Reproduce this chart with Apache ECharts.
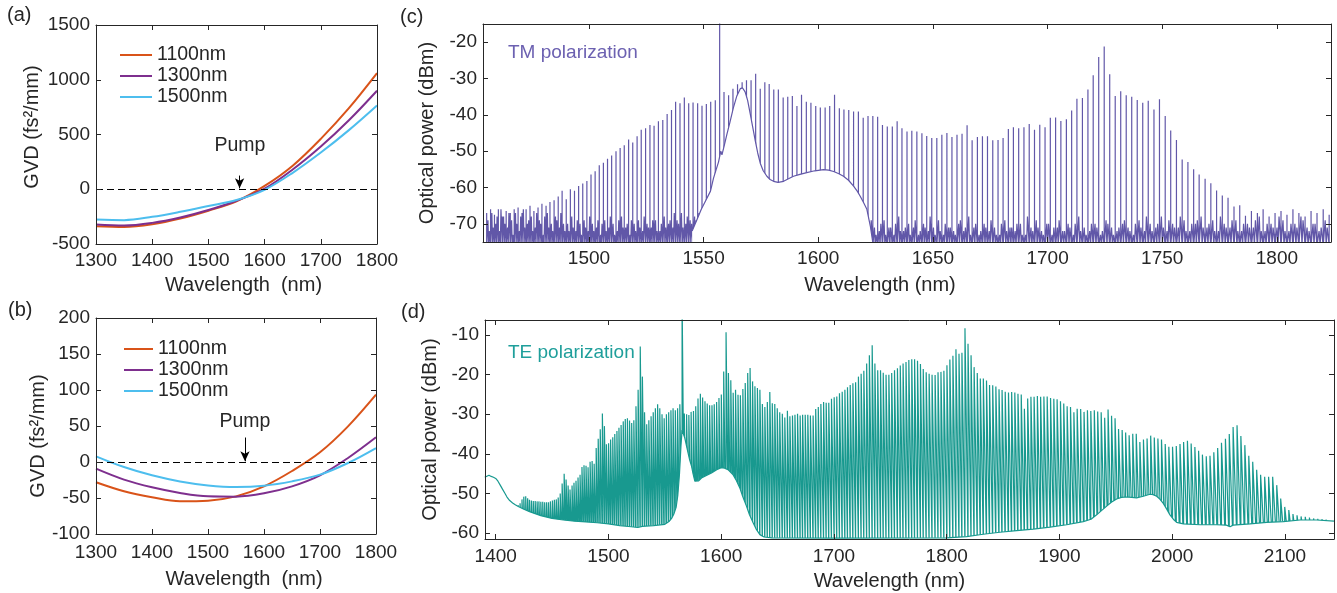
<!DOCTYPE html>
<html>
<head>
<meta charset="utf-8">
<script src="https://cdn.jsdelivr.net/npm/echarts@6/dist/echarts.min.js"></script>
<style>
  html, body { margin: 0; padding: 0; background: #fff; }
  #chart { width: 1337px; height: 593px; }
</style>
</head>
<body>
<div id="chart"></div>
<script>
// ---- (a) / (b): GVD curves for three waveguide widths ----
const gvdWl = [1300, 1350, 1400, 1450, 1500, 1550, 1600, 1650, 1700, 1750, 1800]
const gvdA1100 = [-337, -344, -319, -267, -196, -110, 30, 215, 460, 740, 1060]
const gvdA1300 = [-322, -331, -307, -258, -190, -105, 5, 180, 390, 630, 900]
const gvdA1500 = [-276, -282, -252, -206, -153, -98, -5, 150, 335, 540, 765]
const gvdB1100 = [-28.2, -40.7, -49, -54.6, -53.7, -47.7, -33.8, -12.5, 13.5, 49.5, 93.5]
const gvdB1300 = [-9.3, -24.5, -35.2, -43, -47.7, -48.1, -43.5, -33.8, -18.5, 5.6, 34.3]
const gvdB1500 = [7.9, -7, -18.5, -27, -32.5, -34.7, -32.9, -26.9, -17.6, -1.4, 19.4]

// ---- (c): TM comb, line positions (nm) and peak powers (dBm) ----
const tmLineWl = [
  1455.4, 1457.1, 1458.8, 1460.5, 1462.2, 1463.9, 1465.7, 1467.4, 1469.1, 1470.8,
  1472.6, 1474.3, 1476.0, 1477.8, 1479.5, 1481.3, 1483.0, 1484.8,
  1486.6, 1488.3, 1490.1, 1491.9, 1493.7, 1495.5, 1497.3, 1499.1, 1500.9, 1502.7,
  1504.5, 1506.3, 1508.1, 1509.9, 1511.8, 1513.6, 1515.4, 1517.3, 1519.1, 1521.0,
  1522.8, 1524.7, 1526.6, 1528.4, 1530.3, 1532.2, 1534.1, 1536.0, 1537.8, 1539.7,
  1541.6, 1543.5, 1545.4, 1547.4, 1549.3, 1551.2, 1553.1, 1555.1,
  1557.0,
  1558.9, 1560.9, 1562.8, 1564.8, 1566.8, 1568.7, 1570.7, 1572.7, 1574.7, 1576.7,
  1578.6, 1580.6, 1582.6, 1584.7, 1586.7, 1588.7, 1590.7, 1592.7, 1594.8, 1596.8,
  1598.9, 1600.9, 1603.0, 1605.0, 1607.1, 1609.2, 1611.2, 1613.3, 1615.4, 1617.5,
  1619.6, 1621.7, 1623.8, 1625.9, 1628.0, 1630.1, 1632.3, 1634.4, 1636.5, 1638.7,
  1640.8, 1643.0, 1645.2, 1647.3, 1649.5, 1651.7, 1653.9, 1656.1, 1658.3, 1660.5,
  1662.7, 1664.9, 1667.1, 1669.4, 1671.6, 1673.8, 1676.1, 1678.4, 1680.6, 1682.9,
  1685.1, 1687.4, 1689.7, 1692.0, 1694.3, 1696.6, 1698.9, 1701.2, 1703.5, 1705.8,
  1708.2, 1710.5, 1712.8, 1715.2, 1717.6, 1719.9, 1722.3, 1724.7, 1727.1, 1729.5,
  1731.9, 1734.3, 1736.7, 1739.1, 1741.5, 1743.9, 1746.4, 1748.8, 1751.3, 1753.7,
  1756.2, 1758.7, 1761.2, 1763.7, 1766.1, 1768.7, 1771.2, 1773.7, 1776.2, 1778.7,
  1781.3, 1783.8, 1786.3, 1788.9, 1791.5, 1794.0, 1796.6, 1799.2, 1801.8, 1804.4,
  1807.0, 1809.6, 1812.3, 1814.9, 1817.5, 1820.2, 1822.8
]
const tmLinePeak = [
  -67, -66, -67.5, -66, -68, -66.5, -67, -66, -65.5, -67,
  -66, -65, -66.5, -65.5, -64.5, -65, -64, -63.5,
  -62.5, -60.9, -63.2, -60.5, -60.9, -59.6, -58.9, -58.2, -56.4, -55.5,
  -53.9, -53.2, -52.1, -51.2, -50.0, -49.1, -48.4, -46.8, -47.6, -45.9,
  -44.1, -43.7, -42.8, -43.0, -41.8, -41.4, -39.8, -38.7, -36.4, -36.8,
  -35.2, -36.8, -36.6, -36.8, -37.5, -37.0, -36.4, -36.0,
  -10,
  -33.7, -34.6, -32.8, -31.6, -31.0, -30.5, -30.5, -28.7, -32.8, -31.0,
  -31.5, -33.0, -33.0, -35.2, -35.0, -34.8, -37.6, -34.5, -36.4, -36.7,
  -37.6, -38.0, -38.0, -37.6, -34.5, -38.2, -38.5, -38.7, -39.1, -39.1,
  -40.8, -40.3, -40.3, -40.5, -42.8, -43.2, -43.2, -41.8, -43.7, -44.6,
  -44.4, -44.6, -45.1, -45.8, -46.4, -46.4, -45.5, -45.0, -46.1, -45.5,
  -45.2, -42.9, -47.0, -46.1, -45.9, -45.9, -47.0, -46.9, -46.4, -43.9,
  -43.4, -43.7, -43.4, -42.5, -44.1, -42.7, -43.4, -40.8, -40.7, -41.7,
  -41.2, -38.8, -35.6, -35.4, -33.0, -29.1, -24.1, -21.2, -28.8, -34.8,
  -33.5, -34.6, -35.0, -35.9, -36.7, -36.1, -38.5, -35.7, -40.3, -44.3,
  -46.9, -52.3, -53.0, -55.0, -56.4, -57.6, -58.8, -60.8, -62.2, -62.8,
  -65.2, -64.9, -67.8, -66.5, -67, -66, -68, -67, -66.5, -67.5,
  -66, -67, -68, -66.5, -67, -66, -67.5
]
// noise spikes between comb lines, dB above the -76 dBm trace bottom (two per gap)
const tmNoiseLeft = [
  7, 4, 9, 5, 6, 8, 4, 10, 8, 6, 5, 9, 7, 3, 9, 6, 4, 8, 10, 5,
  6, 7, 8, 4, 5, 9, 7, 6, 3, 8, 9, 5, 6, 4, 8, 7, 5, 9, 6, 4,
  6, 4, 8, 5, 4, 7, 6, 3, 7, 5, 4, 8, 6, 4, 5, 7, 3, 6, 7, 4,
  5, 8, 6, 3, 4, 7, 8, 5, 5, 6, 3, 7, 6, 4, 7, 5, 4, 8, 6, 5,
  5, 7, 7, 4, 4, 6, 8, 5, 6, 7, 5, 9, 7, 6, 9, 5, 6, 8, 7, 6,
  8, 7, 9, 7
]
const tmNoiseRight = [
  6, 4, 3, 7, 5, 3, 4, 6, 7, 3, 5, 5, 3, 6, 8, 4, 4, 5, 6, 3,
  5, 7, 3, 4, 6, 5, 4, 8, 5, 3, 7, 4, 3, 6, 5, 5, 4, 3, 6, 7,
  4, 5, 8, 3, 5, 6, 3, 4, 6, 5, 4, 7, 5, 3, 3, 6, 7, 4, 5, 5,
  4, 6, 6, 3, 3, 8, 5, 4, 7, 5, 4, 3, 6, 6, 3, 5, 5, 7, 4, 4,
  6, 5, 3, 6, 8, 4, 5, 3, 4, 6, 6, 5, 3, 4, 7, 6, 5, 3, 4, 5,
  6, 7, 5, 4, 3, 6, 7, 5, 4, 8, 6, 4, 5, 6, 8, 5, 4, 7, 6, 5,
  5, 8, 7, 4, 4, 6, 6, 7, 8, 5, 5, 6, 7, 4, 4, 8, 6, 5, 5, 7,
  7, 4, 4, 6, 6, 5, 5, 7, 8, 4, 4, 6, 6, 5, 5, 8, 7, 4, 4, 6,
  6, 5, 8, 7, 5, 4, 6, 6, 4, 5, 7, 5
]
// broad pump pedestal under the TM comb
const tmPedestal = [
  [1545, -72], [1547, -69], [1549, -66], [1551, -63.5], [1553, -61], [1554.3, -57.5],
  [1555.5, -55], [1556.5, -53], [1557.5, -50], [1558, -51], [1559, -48.5], [1560.1, -45.5],
  [1561.5, -42], [1563, -38], [1564.5, -34.8], [1566, -32.8], [1567, -32.6], [1568.1, -33.7],
  [1569.2, -36], [1570.3, -39.6], [1571.4, -43.3], [1572.5, -47], [1573.6, -50.5],
  [1574.7, -53.3], [1576, -55.4], [1577.6, -56.9], [1579, -57.8], [1580.5, -58.3],
  [1582.5, -58.6], [1584.9, -58.3], [1587, -57.6], [1589.2, -56.9], [1592, -56.4],
  [1595, -55.9], [1598.5, -55.4], [1602.3, -55.1], [1604.5, -55.2], [1606.7, -55.6],
  [1609, -56.2], [1611, -56.9], [1613.2, -58], [1615.4, -59.6], [1617, -61], [1618.3, -62.4],
  [1619.8, -64.2], [1621.2, -66], [1622.7, -70.6], [1624, -76]
]

// ---- (d): TE comb ----
const teLineWl = [
  1420.0, 1421.6, 1423.3, 1424.9, 1426.6, 1428.3, 1429.9, 1431.6, 1433.3, 1435.0,
  1436.7, 1438.3, 1440.0, 1441.7, 1443.4, 1445.1, 1446.8, 1448.5, 1450.3, 1452.0,
  1453.7, 1455.4, 1457.2, 1458.9, 1460.7, 1462.4, 1464.2, 1465.9, 1467.7, 1469.4,
  1471.2, 1473.0, 1474.8, 1476.5, 1478.3, 1480.1, 1481.9, 1483.7, 1485.5, 1487.3,
  1489.1, 1490.9, 1492.7, 1494.6, 1496.4, 1498.2, 1500.1, 1501.9, 1503.8, 1505.6,
  1507.5, 1509.3, 1511.2, 1513.1, 1514.9, 1516.8, 1518.7, 1520.6, 1522.5, 1524.4,
  1526.3, 1528.2, 1530.1, 1532.0, 1533.9, 1535.8, 1537.8, 1539.7, 1541.6, 1543.6,
  1545.5, 1547.5, 1549.4, 1551.4, 1553.4, 1555.4, 1557.3, 1559.3, 1561.3, 1563.3,
  1565.3,
  1567.3, 1569.3, 1571.3, 1573.3, 1575.4, 1577.4, 1579.4, 1581.5, 1583.5, 1585.6,
  1587.6, 1589.7, 1591.8, 1593.8, 1595.9, 1598.0, 1600.1, 1602.2, 1604.3, 1606.4,
  1608.5, 1610.6, 1612.7, 1614.9, 1617.0, 1619.2, 1621.3, 1623.5, 1625.6, 1627.8,
  1629.9, 1632.1, 1634.3, 1636.5, 1638.7, 1640.9, 1643.1, 1645.3, 1647.5, 1649.7,
  1651.9, 1654.2, 1656.4, 1658.7, 1660.9, 1663.2, 1665.4, 1667.7, 1670.0, 1672.2,
  1674.5, 1676.8, 1679.1, 1681.5, 1683.8, 1686.1, 1688.4, 1690.8, 1693.1, 1695.4,
  1697.8, 1700.2, 1702.5, 1704.9, 1707.3, 1709.7, 1712.0, 1714.4, 1716.8, 1719.2,
  1721.7, 1724.1, 1726.5, 1729.0, 1731.4, 1733.9, 1736.3, 1738.8, 1741.3, 1743.7,
  1746.2, 1748.7, 1751.2, 1753.7, 1756.3, 1758.8, 1761.3, 1763.9, 1766.4, 1769.0,
  1771.5, 1774.1, 1776.7, 1779.2, 1781.8, 1784.4, 1787.0, 1789.7, 1792.3, 1794.9,
  1797.5, 1800.2, 1802.8, 1805.5, 1808.2, 1810.9, 1813.5, 1816.2, 1818.9, 1821.6,
  1824.3, 1827.1, 1829.8, 1832.5, 1835.3, 1838.0, 1840.8, 1843.6, 1846.4, 1849.1,
  1851.9, 1854.8, 1857.6, 1860.4, 1863.2, 1866.1, 1868.9, 1871.8, 1874.7, 1877.5,
  1880.4, 1883.3, 1886.2, 1889.1, 1892.1, 1895.0, 1897.9, 1900.9, 1903.8, 1906.8,
  1909.8, 1912.8, 1915.7, 1918.8, 1921.8, 1924.8, 1927.8, 1930.9, 1933.9, 1937.0,
  1940.1, 1943.1, 1946.2, 1949.3, 1952.4, 1955.6, 1958.7, 1961.8, 1965.0, 1968.1,
  1971.3, 1974.5, 1977.7, 1980.9, 1984.1, 1987.3, 1990.5, 1993.8, 1997.0, 2000.3,
  2003.6, 2006.9, 2010.1, 2013.5, 2016.8, 2020.1, 2023.4, 2026.8, 2030.2, 2033.5,
  2036.9, 2040.3, 2043.7, 2047.2, 2050.6, 2054.0, 2057.5, 2060.9, 2064.4, 2067.9,
  2071.4, 2074.9, 2078.4, 2082.0, 2085.5, 2089.1, 2092.7, 2096.2, 2099.8, 2103.4,
  2107.1, 2110.7, 2114.3, 2118.0, 2121.7, 2125.4, 2129.1, 2132.8, 2136.5
]
const teLinePeak = [
  -53.0, -52.5, -51.5, -50.8, -50.7, -51.2, -51.6, -51.8, -51.9, -51.9,
  -52.0, -52.0, -52.1, -52.1, -52.2, -52.2, -52.2, -52.0, -51.8, -51.6,
  -51.5, -51.0, -50.0, -47.5, -45.0, -46.5, -48.0, -49.0, -48.0, -47.3,
  -46.8, -46.0, -45.3, -43.3, -42.9, -43.0, -43.4, -42.0, -41.8, -42.5,
  -38.5, -36.2, -33.8, -29.8, -33.0, -37.6, -37.3, -36.4, -35.8, -35.0,
  -34.2, -33.4, -32.7, -31.8, -31.2, -31.0, -31.6, -32.2, -31.5, -28.0,
  -23.8, -12.9, -20.5, -29.5, -32.5, -31.5, -30.5, -29.5, -28.5, -27.5,
  -28.5, -30.0, -31.0, -30.0, -29.5, -29.0, -28.5, -29.0, -28.5, -27.5,
  0,
  -29.8, -30.0, -30.2, -29.4, -29.2, -28.0, -26.0, -24.8, -25.8, -26.7,
  -27.3, -27.7, -27.7, -27.5, -26.9, -25.9, -25.0, -19.2, -9.3, -19.6,
  -21.4, -24.6, -23.8, -25.1, -25.2, -23.6, -22.1, -19.6, -18.3, -21.7,
  -22.9, -23.4, -23.8, -27.4, -28.2, -26.9, -24.4, -27.2, -27.4, -28.5,
  -29.5, -29.9, -30.8, -29.1, -30.5, -30.3, -30.1, -29.9, -30.3, -30.1,
  -30.1, -30.1, -30.3, -30.3, -28.7, -28.2, -27.4, -26.9, -27.1, -27.1,
  -26.1, -25.7, -25.5, -24.7, -24.3, -23.8, -23.2, -22.6, -22.2, -21.9,
  -20.5, -19.8, -19.0, -17.2, -15.1, -12.6, -17.2, -18.9, -18.9, -19.5,
  -20.0, -20.0, -19.6, -18.9, -18.4, -17.7, -17.2, -16.8, -16.3, -16.1,
  -16.1, -16.5, -17.3, -18.6, -19.4, -19.8, -20.0, -20.1, -19.4, -19.3,
  -19.0, -17.6, -16.2, -15.2, -13.6, -14.7, -14.5, -8.3, -12.2, -15.1,
  -18.1, -19.6, -21.0, -21.0, -21.5, -22.6, -22.7, -23.0, -23.7, -23.9,
  -24.3, -24.5, -24.4, -24.5, -24.8, -25.0, -28.6, -26.0, -25.6, -25.6,
  -25.4, -25.6, -25.5, -25.5, -25.9, -26.1, -26.2, -26.7, -27.3, -28.0,
  -28.2, -29.5, -28.6, -28.7, -29.4, -29.0, -29.2, -29.0, -29.3, -29.5,
  -30.9, -28.8, -30.4, -31.0, -33.7, -34.0, -34.6, -35.3, -34.9, -34.9,
  -37.0, -36.4, -36.1, -35.4, -35.9, -36.1, -36.4, -37.5, -38.2, -38.2,
  -38.0, -37.5, -37.0, -36.7, -37.4, -38.3, -39.2, -40.2, -40.6, -40.5,
  -39.6, -38.5, -37.2, -36.2, -35.0, -33.2, -32.8, -35.5, -37.8, -40.5,
  -42.0, -44.0, -45.3, -45.8, -45.8, -45.8, -47.9, -51.3, -53.4, -54.2,
  -55.2, -55.5, -55.8, -55.9, -56.1, -56.3, -56.4, -56.5, -56.6
]
// continuous background the TE comb lines rise from
const teFloor = [
  [1390.3, -45.9], [1392, -45.6], [1394, -45.4], [1396, -45.7], [1398, -45.9], [1400, -46.2],
  [1402, -46.9], [1404, -47.9], [1406, -48.9], [1408, -49.9], [1410, -50.9], [1412.4, -51.8],
  [1415, -52.4], [1417, -52.8], [1420, -53.3], [1425, -54.0], [1430, -54.6], [1435, -55.1],
  [1440, -55.6], [1450, -56.3], [1460, -56.7], [1470, -57.0], [1480, -57.2], [1490, -57.4],
  [1500, -57.7], [1510, -58.1], [1520, -58.4], [1526, -58.6], [1530, -58.3], [1540, -58.1],
  [1550, -57.8], [1554, -57.0], [1556, -56.3], [1558, -55.2], [1560, -53.5], [1561.5, -50.5],
  [1563, -45.0], [1564.3, -38.0], [1565.3, -34.0], [1566.5, -34.5], [1567.7, -36.0],
  [1570, -39.0], [1572, -41.5], [1573.6, -43.0], [1575, -45.0], [1576.6, -46.9], [1578, -47.2],
  [1580, -46.8], [1582.5, -46.1], [1586, -45.6], [1591.4, -44.8], [1596, -44.0], [1600, -43.5],
  [1603, -43.6], [1606, -44.0], [1610.6, -45.3], [1613, -46.5], [1616.5, -48.6], [1619, -50.7],
  [1622.4, -53.2], [1625, -55.3], [1628.3, -57.4], [1631, -59.0], [1634.3, -60.4], [1638, -61.0],
  [1645, -61.2], [1700, -61.3], [1800, -61.2], [1817.6, -60.9], [1832.4, -60.3], [1847.2, -59.8],
  [1862, -59.4], [1876.8, -59.0], [1891.6, -58.5], [1906.4, -57.9], [1921.1, -57.1], [1928, -56.5],
  [1933, -55.4], [1937, -54.4], [1941.9, -53.2], [1946, -52.2], [1950.7, -51.4], [1955, -51.0],
  [1959.6, -50.9], [1964, -51.0], [1968.5, -51.1], [1974.4, -50.7], [1980.3, -50.2], [1983, -50.3],
  [1986.2, -50.7], [1989, -51.4], [1992.1, -52.5], [1995, -53.9], [1998, -55.4], [2001, -56.5],
  [2003.9, -57.3], [2009.9, -57.7], [2024.7, -57.9], [2039.4, -57.9], [2048, -58.0], [2051.3, -58.4],
  [2054, -58.0], [2069, -57.7], [2083.8, -57.3], [2098.6, -57.1], [2113.4, -56.7], [2128.2, -56.7],
  [2143.5, -57.0]
]

// tick labels
const gvdXTicks = [1300, 1400, 1500, 1600, 1700, 1800]
const gvdAYTicks = [-500, 0, 500, 1000, 1500]
const gvdBYTicks = [-100, -50, 0, 50, 100, 150, 200]
const tmXTicks = [1500, 1550, 1600, 1650, 1700, 1750, 1800]
const tmYTicks = [-70, -60, -50, -40, -30, -20]
const teXTicks = [1400, 1500, 1600, 1700, 1800, 1900, 2000, 2100]
const teYTicks = [-60, -50, -40, -30, -20, -10]

const ink = '#262626'
const font = 'Liberation Sans, Arial, Helvetica, sans-serif'
const cOrange = '#D95319'
const cPurple = '#7E2F8E'
const cCyan = '#4DBEEE'
const cTM = '#6157a8'
const cTE = '#18998f'

function pairs(flat) {
  const out = []
  for (let i = 0; i < flat.length; i += 2) out.push([flat[i], flat[i + 1]])
  return out
}
const tmNoise = pairs(tmNoiseLeft).concat(new Array(35).fill(null), pairs(tmNoiseRight))

// TM: comb lines drawn as vertical strokes from the trace bottom, noise in the gaps
function combTrace(wl, peak, base, noise) {
  const pts = []
  for (let i = 0; i < wl.length; i++) {
    pts.push([wl[i], base], [wl[i], peak[i]], [wl[i], base])
    const nz = noise ? noise[i] : null
    if (nz && i + 1 < wl.length) {
      const g = wl[i + 1] - wl[i]
      pts.push([wl[i] + g / 3, base + nz[0]], [wl[i] + g / 2, base], [wl[i] + 2 * g / 3, base + nz[1]])
    }
  }
  return pts
}
// TE: sawtooth, each line rises vertically and the trace falls back towards the next line
function sawTrace(wl, peak, base) {
  const pts = []
  for (let i = 0; i < wl.length; i++) pts.push([wl[i], base], [wl[i], peak[i]])
  return pts
}

function axes(kind, grid, min, max, ticks, name, nameGap, namePad, margin) {
  const isX = kind === 'x'
  const line = { show: true, onZero: false, lineStyle: { color: ink, width: 1 } }
  const tick = { show: true, inside: true, length: 5, customValues: ticks, lineStyle: { color: ink } }
  return [{
    type: 'value', gridIndex: grid, min: min, max: max, z: 10,
    position: isX ? 'bottom' : 'left',
    axisLine: line, axisTick: tick,
    axisLabel: { customValues: ticks, color: ink, fontSize: 19, fontFamily: font, margin: margin,
      formatter: v => String(v) },
    splitLine: { show: false },
    name: name, nameLocation: 'middle', nameGap: nameGap,
    nameTextStyle: { color: ink, fontSize: 20, fontFamily: font, padding: namePad }
  }, {
    type: 'value', gridIndex: grid, min: min, max: max, z: 10,
    position: isX ? 'top' : 'right',
    axisLine: line, axisTick: tick,
    axisLabel: { show: false }, splitLine: { show: false }
  }]
}

function gvdSeries(name, color, data, xi, extra) {
  return Object.assign({
    name: name, type: 'line', xAxisIndex: xi, yAxisIndex: xi,
    data: gvdWl.map((w, i) => [w, data[i]]),
    smooth: 0.35, symbol: 'none', lineStyle: { color: color, width: 2 },
    itemStyle: { color: color }
  }, extra || {})
}

function zeroLine() {
  return { silent: true, symbol: 'none', label: { show: false },
    lineStyle: { color: '#000', width: 1, type: [7, 4] }, data: [{ yAxis: 0 }] }
}
function pumpArrow(x, y0, y1) {
  return { silent: true, symbol: ['none', 'arrow'], symbolSize: [7, 10], label: { show: false },
    lineStyle: { color: '#000', width: 1, type: 'solid' },
    data: [[{ coord: [x, y0] }, { coord: [x, y1] }]] }
}
function pumpText(x, y) {
  return { silent: true, symbol: 'rect', symbolSize: 1, itemStyle: { color: 'rgba(0,0,0,0)' },
    label: { show: true, position: 'inside', formatter: 'Pump', color: ink, fontSize: 19.5, fontFamily: font },
    data: [{ coord: [x, y] }] }
}

const ax = {
  a: { x: axes('x', 0, 1300, 1800, gvdXTicks, 'Wavelength  (nm)', 31, [0, 0, 0, 14], 7),
       y: axes('y', 0, -500, 1500, gvdAYTicks, 'GVD (fs²/mm)', 54, [0, 0, 0, 15], 6) },
  b: { x: axes('x', 1, 1300, 1800, gvdXTicks, 'Wavelength  (nm)', 35, [0, 0, 0, 16], 9),
       y: axes('y', 1, -100, 200, gvdBYTicks, 'GVD (fs²/mm)', 48, [0, 20, 0, 0], 6) },
  c: { x: axes('x', 2, 1453.8, 1823.6, tmXTicks, 'Wavelength (nm)', 33, [0, 54, 0, 0], 7),
       y: axes('y', 2, -75, -15, tmYTicks, 'Optical power (dBm)', 46, 0, 6) },
  d: { x: axes('x', 3, 1390.5, 2143.5, teXTicks, 'Wavelength (nm)', 32, [0, 40, 0, 0], 8),
       y: axes('y', 3, -61.5, -6.2, teYTicks, 'Optical power (dBm)', 45, 0, 6) }
}

const legendBase = {
  orient: 'vertical', itemGap: 1, itemHeight: 2, icon: 'rect',
  textStyle: { color: ink, fontSize: 19.5, fontFamily: font, lineHeight: 20 },
  data: ['1100nm', '1300nm', '1500nm'], selectedMode: false
}

const option = {
  animation: false,
  backgroundColor: '#fff',
  grid: [
    { left: 96, top: 25, width: 281, height: 219 },
    { left: 96, top: 318, width: 280, height: 216 },
    { left: 483, top: 24, width: 848, height: 218 },
    { left: 485, top: 320, width: 849, height: 219 }
  ],
  xAxis: [].concat(ax.a.x, ax.b.x, ax.c.x, ax.d.x),
  yAxis: [].concat(ax.a.y, ax.b.y, ax.c.y, ax.d.y),
  legend: [
    Object.assign({ left: 115, top: 40, itemWidth: 32 }, legendBase),
    Object.assign({ left: 119, top: 334, itemWidth: 29 }, legendBase)
  ],
  graphic: { elements: [
    { type: 'text', x: 7, y: 15, style: { text: '(a)', fill: ink, font: '20px ' + font, textVerticalAlign: 'middle', verticalAlign: 'middle' } },
    { type: 'text', x: 8, y: 310, style: { text: '(b)', fill: ink, font: '20px ' + font, textVerticalAlign: 'middle', verticalAlign: 'middle' } },
    { type: 'text', x: 400, y: 17, style: { text: '(c)', fill: ink, font: '20px ' + font, textVerticalAlign: 'middle', verticalAlign: 'middle' } },
    { type: 'text', x: 401, y: 312, style: { text: '(d)', fill: ink, font: '20px ' + font, textVerticalAlign: 'middle', verticalAlign: 'middle' } },
    { type: 'text', x: 508, y: 53, z: 20, style: { text: 'TM polarization', fill: '#6c61b1', font: '19px ' + font, textVerticalAlign: 'middle', verticalAlign: 'middle' } },
    { type: 'text', x: 508, y: 353, z: 20, style: { text: 'TE polarization', fill: '#1f9f9b', font: '19px ' + font, textVerticalAlign: 'middle', verticalAlign: 'middle' } }
  ] },
  series: [
    gvdSeries('1100nm', cOrange, gvdA1100, 0, { markLine: zeroLine() }),
    gvdSeries('1300nm', cPurple, gvdA1300, 0, { markLine: pumpArrow(1555.5, 125, 8) }),
    gvdSeries('1500nm', cCyan, gvdA1500, 0, { markPoint: pumpText(1556, 400) }),
    gvdSeries('1100nm', cOrange, gvdB1100, 2, { markLine: zeroLine() }),
    gvdSeries('1300nm', cPurple, gvdB1300, 2, { markLine: pumpArrow(1566, 34, 1) }),
    gvdSeries('1500nm', cCyan, gvdB1500, 2, { markPoint: pumpText(1566, 56.5) }),
    {
      name: 'TM', type: 'line', xAxisIndex: 4, yAxisIndex: 4, z: 2,
      data: combTrace(tmLineWl, tmLinePeak, -76, tmNoise),
      symbol: 'none', clip: true, lineStyle: { color: cTM, width: 1.2 }
    },
    {
      name: 'TM pedestal', type: 'line', xAxisIndex: 4, yAxisIndex: 4, z: 3,
      data: tmPedestal, symbol: 'none', clip: true,
      lineStyle: { color: cTM, width: 1.2 },
      areaStyle: { color: '#fff', opacity: 1, origin: 'start' }
    },
    {
      name: 'TE', type: 'line', xAxisIndex: 6, yAxisIndex: 6, z: 2,
      data: sawTrace(teLineWl, teLinePeak, -63),
      symbol: 'none', clip: true, lineStyle: { color: cTE, width: 1.2 }
    },
    {
      name: 'TE floor', type: 'line', xAxisIndex: 6, yAxisIndex: 6, z: 3,
      data: teFloor, symbol: 'none', clip: true,
      lineStyle: { color: cTE, width: 1.2 },
      areaStyle: { color: '#fff', opacity: 1, origin: 'start' }
    }
  ]
}

const chart = echarts.init(document.getElementById('chart'), null, { renderer: 'canvas' })
chart.setOption(option)
</script>
</body>
</html>
